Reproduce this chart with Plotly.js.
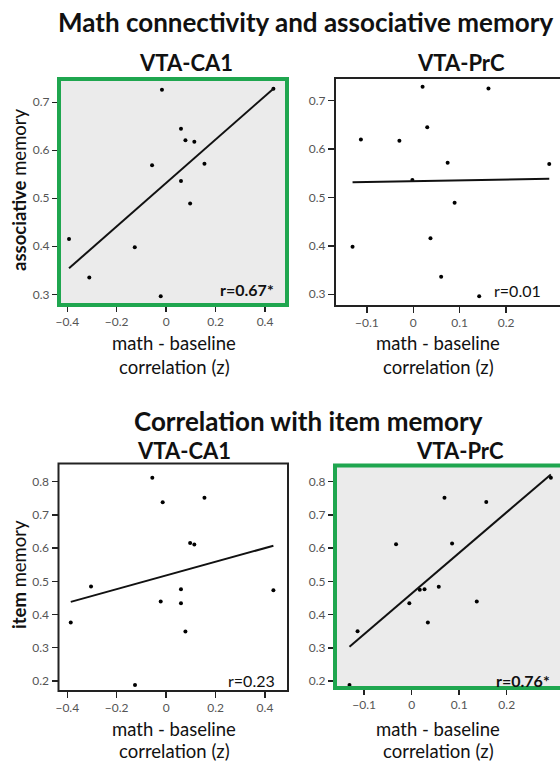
<!DOCTYPE html>
<html>
<head>
<meta charset="utf-8">
<script src="https://cdn.plot.ly/plotly-3.0.1.min.js"></script>
<style>html,body{margin:0;padding:0;background:#fff;overflow:hidden;}#chart{width:560px;height:763px;}</style>
</head>
<body>
<div id="chart"></div>
<script>
// ---- data ----
const caAssocX = [-0.393, -0.311, -0.127, -0.057, -0.017, -0.022, 0.060, 0.078, 0.114, 0.060, 0.097, 0.155, 0.434];
const caAssocY = [0.415, 0.335, 0.398, 0.569, 0.726, 0.296, 0.645, 0.621, 0.618, 0.536, 0.489, 0.572, 0.728];

const prcAssocX = [-0.131, -0.113, -0.030, -0.002, 0.020, 0.030, 0.037, 0.060, 0.074, 0.089, 0.142, 0.162, 0.293];
const prcAssocY = [0.398, 0.620, 0.617, 0.536, 0.729, 0.645, 0.416, 0.336, 0.572, 0.489, 0.296, 0.725, 0.569];

const caItemX = [-0.386, -0.304, -0.126, -0.056, -0.014, -0.022, 0.060, 0.060, 0.078, 0.097, 0.114, 0.155, 0.434];
const caItemY = [0.376, 0.484, 0.188, 0.812, 0.738, 0.439, 0.476, 0.434, 0.349, 0.615, 0.611, 0.752, 0.473];

const prcItemX = [-0.131, -0.114, -0.033, -0.005, 0.017, 0.027, 0.034, 0.057, 0.069, 0.085, 0.137, 0.157, 0.293];
const prcItemY = [0.188, 0.350, 0.612, 0.434, 0.475, 0.476, 0.376, 0.484, 0.752, 0.614, 0.439, 0.739, 0.812];

const caTicks = [-0.4, -0.2, 0, 0.2, 0.4];
const prcTicks = [-0.1, 0, 0.1, 0.2];
const assocTicks = [0.3, 0.4, 0.5, 0.6, 0.7];
const itemTicks = [0.2, 0.3, 0.4, 0.5, 0.6, 0.7, 0.8];

const panelTitles = ['VTA-CA1', 'VTA-PrC', 'VTA-CA1', 'VTA-PrC'];
const rLabels = ['r=0.67*', 'r=0.01', 'r=0.23', 'r=0.76*'];
const rBold = [true, false, false, true];
const mainTitle1 = 'Math connectivity and associative memory';
const mainTitle2 = 'Correlation with item memory';
const xTitle1 = 'math - baseline';
const xTitle2 = 'correlation (z)';

// ---- layout helpers ----
const W = 560, H = 763;
const px = v => v / W;
const py = v => 1 - v / H;
const FONT = 'Lato, "Open Sans", sans-serif';
const GREEN = '#1fa64f';
const FILL = '#ebebeb';

function fit(xs, ys) {
  const n = xs.length;
  const mx = xs.reduce((a, b) => a + b, 0) / n;
  const my = ys.reduce((a, b) => a + b, 0) / n;
  let sxy = 0, sxx = 0;
  for (let i = 0; i < n; i++) { sxy += (xs[i] - mx) * (ys[i] - my); sxx += (xs[i] - mx) ** 2; }
  const b = sxy / sxx, a = my - b * mx;
  const x0 = Math.min(...xs), x1 = Math.max(...xs);
  return { x: [x0, x1], y: [a + b * x0, a + b * x1] };
}

const panels = [
  { xs: caAssocX, ys: caAssocY, dom: [59, 287, 79, 305], xr: [-0.4336, 0.489], yr: [0.2777, 0.7485], xt: caTicks, yt: assocTicks, green: true, cx: 186, ty: 62, rx: 276, ry: 289 },
  { xs: prcAssocX, ys: prcAssocY, dom: [335, 560, 78, 306], xr: [-0.1688, 0.3162], yr: [0.2758, 0.7469], xt: prcTicks, yt: assocTicks, green: false, cx: 461, ty: 62, rx: 543, ry: 290 },
  { xs: caItemX, ys: caItemY, dom: [58.5, 288, 463.5, 691], xr: [-0.4356, 0.4931], yr: [0.1696, 0.8548], xt: caTicks, yt: itemTicks, green: false, cx: 184, ty: 450, rx: 277, ry: 680 },
  { xs: prcItemX, ys: prcItemY, dom: [335, 560, 465.5, 688], xr: [-0.1615, 0.3122], yr: [0.1789, 0.8488], xt: prcTicks, yt: itemTicks, green: true, cx: 460, ty: 450, rx: 552, ry: 680 }
];

const traces = [];
const layout = {
  width: W, height: H,
  margin: { l: 0, r: 0, t: 0, b: 0 },
  paper_bgcolor: '#ffffff',
  plot_bgcolor: 'rgba(0,0,0,0)',
  showlegend: false,
  font: { family: FONT, color: '#111' },
  shapes: [],
  annotations: []
};

panels.forEach((p, i) => {
  const k = i === 0 ? '' : String(i + 1);
  const xa = 'x' + k, ya = 'y' + k;
  traces.push({ type: 'scatter', mode: 'markers', x: p.xs, y: p.ys, xaxis: xa, yaxis: ya,
    marker: { color: '#000', size: 4 }, hoverinfo: 'skip', cliponaxis: false });
  const f = fit(p.xs, p.ys);
  traces.push({ type: 'scatter', mode: 'lines', x: f.x, y: f.y, xaxis: xa, yaxis: ya,
    line: { color: '#111', width: 2 }, hoverinfo: 'skip' });

  const common = { showgrid: false, zeroline: false, showline: false, ticks: 'outside', ticklen: 6,
    tickwidth: 1.5, tickcolor: '#222', tickfont: { family: FONT, size: 12, color: '#555' }, fixedrange: true };
  layout['xaxis' + k] = Object.assign({}, common, {
    domain: [px(p.dom[0]), px(p.dom[1])], range: p.xr, tickvals: p.xt, anchor: ya });
  layout['yaxis' + k] = Object.assign({}, common, {
    domain: [py(p.dom[3]), py(p.dom[2])], range: p.yr, tickvals: p.yt, anchor: xa });

  const xref = xa + ' domain', yref = ya + ' domain';
  const x1 = p.dom[1] >= 559 ? 1.3 : 1;
  if (p.green) {
    layout.shapes.push({ type: 'rect', xref, yref, x0: 0, x1: x1, y0: 0, y1: 1, layer: 'below',
      fillcolor: FILL, line: { width: 0 } });
    layout.shapes.push({ type: 'rect', xref, yref, x0: 0, x1: x1, y0: 0, y1: 1, layer: 'above',
      fillcolor: 'rgba(0,0,0,0)', line: { color: GREEN, width: 4 } });
  } else {
    layout.shapes.push({ type: 'rect', xref, yref, x0: 0, x1: x1, y0: 0, y1: 1, layer: 'above',
      fillcolor: 'rgba(0,0,0,0)', line: { color: '#222', width: 2 } });
  }

  layout.annotations.push({ text: '<b>' + panelTitles[i] + '</b>', xref: 'paper', yref: 'paper',
    x: px(p.cx), y: py(p.ty), xanchor: 'center', yanchor: 'middle', showarrow: false,
    font: { family: FONT, size: 22, color: '#111' } });
  layout.annotations.push({ text: rBold[i] ? '<b>' + rLabels[i] + '</b>' : rLabels[i], xref: 'paper', yref: 'paper',
    x: px(p.rx), y: py(p.ry), xanchor: 'right', yanchor: 'middle', showarrow: false,
    font: { family: FONT, size: 16, color: '#111' } });
});

// row titles and axis titles
function ann(text, x, y, size, extra) {
  layout.annotations.push(Object.assign({ text, xref: 'paper', yref: 'paper', x: px(x), y: py(y),
    xanchor: 'center', yanchor: 'middle', showarrow: false, font: { family: FONT, size, color: '#111' } }, extra || {}));
}
ann('<b>' + mainTitle1 + '</b>', 305, 22, 26);
ann('<b>' + mainTitle2 + '</b>', 308, 421, 26);
[[174, 343, 367], [438, 343, 367], [174, 729, 751], [438, 729, 751]].forEach(a => {
  ann(xTitle1, a[0], a[1], 18.5);
  ann(xTitle2, a[0], a[2], 18.5);
});
ann('<b>associative</b> memory', 19, 190, 18.5, { textangle: -90 });
ann('<b>item</b> memory', 19, 575, 18.5, { textangle: -90 });

Plotly.newPlot('chart', traces, layout, { staticPlot: true, displayModeBar: false });
</script>
</body>
</html>
